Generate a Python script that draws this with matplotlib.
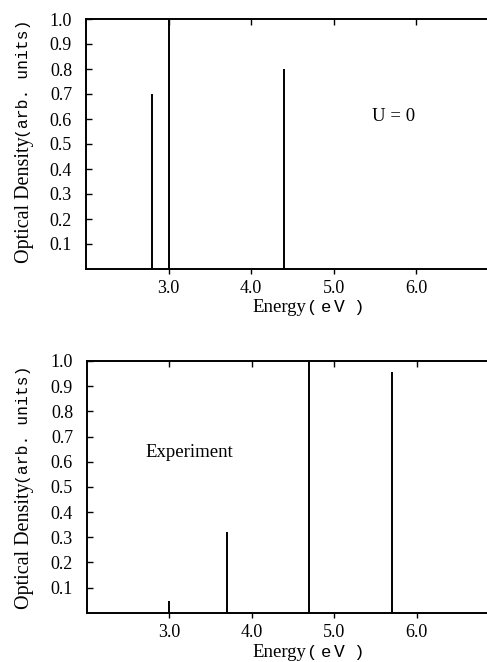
import matplotlib
matplotlib.use("Agg")
import matplotlib.pyplot as plt

# Data
theory_energy = [2.8, 3.0, 4.4]
theory_density = [0.70, 1.00, 0.80]
exp_energy = [3.0, 3.7, 4.7, 5.7]
exp_density = [0.045, 0.32, 1.00, 0.955]
x_ticks = [3.0, 4.0, 5.0, 6.0]
x_tick_labels = ["3.0", "4.0", "5.0", "6.0"]
y_ticks = [0.1, 0.2, 0.3, 0.4, 0.5, 0.6, 0.7, 0.8, 0.9, 1.0]
y_tick_labels = ["0.1", "0.2", "0.3", "0.4", "0.5", "0.6", "0.7", "0.8", "0.9", "1.0"]
panel_labels = ["U = 0", "Experiment"]

W, H = 487, 662
DPI = 100
fig = plt.figure(figsize=(W / DPI, H / DPI), dpi=DPI)
fig.patch.set_facecolor("white")

SERIF = "Liberation Serif"
MONO = "Liberation Mono"


def axes_rect(left_px, top_px, width_px, height_px):
    return [left_px / W, (H - top_px - height_px) / H, width_px / W, height_px / H]


def setup(ax, energies, dens):
    ax.vlines(energies, 0, dens, colors="black", linewidth=1.4)
    ax.set_xlim(2.0, 7.0)
    ax.set_ylim(0.0, 1.0)
    ax.set_xticks(x_ticks)
    ax.set_xticklabels(x_tick_labels, fontfamily=SERIF, fontsize=13)
    ax.set_yticks(y_ticks)
    ax.set_yticklabels(y_tick_labels, fontfamily=SERIF, fontsize=13)
    ax.tick_params(axis="x", direction="out", length=3.5, width=1.0, pad=4.5)
    ax.tick_params(axis="y", direction="in", length=4, width=1.0, pad=10)
    for s in ax.spines.values():
        s.set_linewidth(1.4)
    top = ax.secondary_xaxis("top")
    top.set_xticks(x_ticks)
    top.tick_params(axis="x", direction="in", length=4, width=1.0, labeltop=False)
    top.spines["top"].set_visible(False)


ax1 = fig.add_axes(axes_rect(86, 19, 412.5, 250))
setup(ax1, theory_energy, theory_density)
ax1.text(5.47, 0.61, panel_labels[0], fontfamily=SERIF, fontsize=13.5, ha="left", va="center")

ax2 = fig.add_axes(axes_rect(87, 361, 412, 251.7))
setup(ax2, exp_energy, exp_density)
ax2.text(2.71, 0.635, panel_labels[1], fontfamily=SERIF, fontsize=13.5, ha="left", va="center")


def fx(px):
    return px / W


def fy(py):
    return (H - py) / H


renderer = fig.canvas.get_renderer()


def ylabel(bottom_py, xc):
    t1 = fig.text(fx(xc), fy(bottom_py), "Optical Density", rotation=90,
                  fontfamily=SERIF, fontsize=14.5, ha="center", va="bottom")
    bb = t1.get_window_extent(renderer)
    top_px = H - bb.y1
    fig.text(fx(xc), fy(top_px + 2), "(arb. units)", rotation=90,
             fontfamily=MONO, fontsize=11.8, ha="center", va="bottom")


def xlabel(left_px, baseline_py):
    fig.text(fx(left_px), fy(baseline_py), "Energy", fontfamily=SERIF,
             fontsize=13.5, ha="left", va="baseline")
    fig.text(fx(left_px + 54), fy(baseline_py), "(", fontfamily=MONO,
             fontsize=12.5, ha="left", va="baseline")
    fig.text(fx(left_px + 69), fy(baseline_py), "e", fontfamily=MONO,
             fontsize=12.5, ha="left", va="baseline")
    fig.text(fx(left_px + 82), fy(baseline_py), "V", fontfamily=MONO,
             fontsize=13, ha="left", va="baseline")
    fig.text(fx(left_px + 101), fy(baseline_py), ")", fontfamily=MONO,
             fontsize=12.5, ha="left", va="baseline")


xlabel(252, 312)
xlabel(252, 657)
ylabel(263, 24)
ylabel(609, 24)

fig.savefig("out.png", dpi=DPI, facecolor="white")
